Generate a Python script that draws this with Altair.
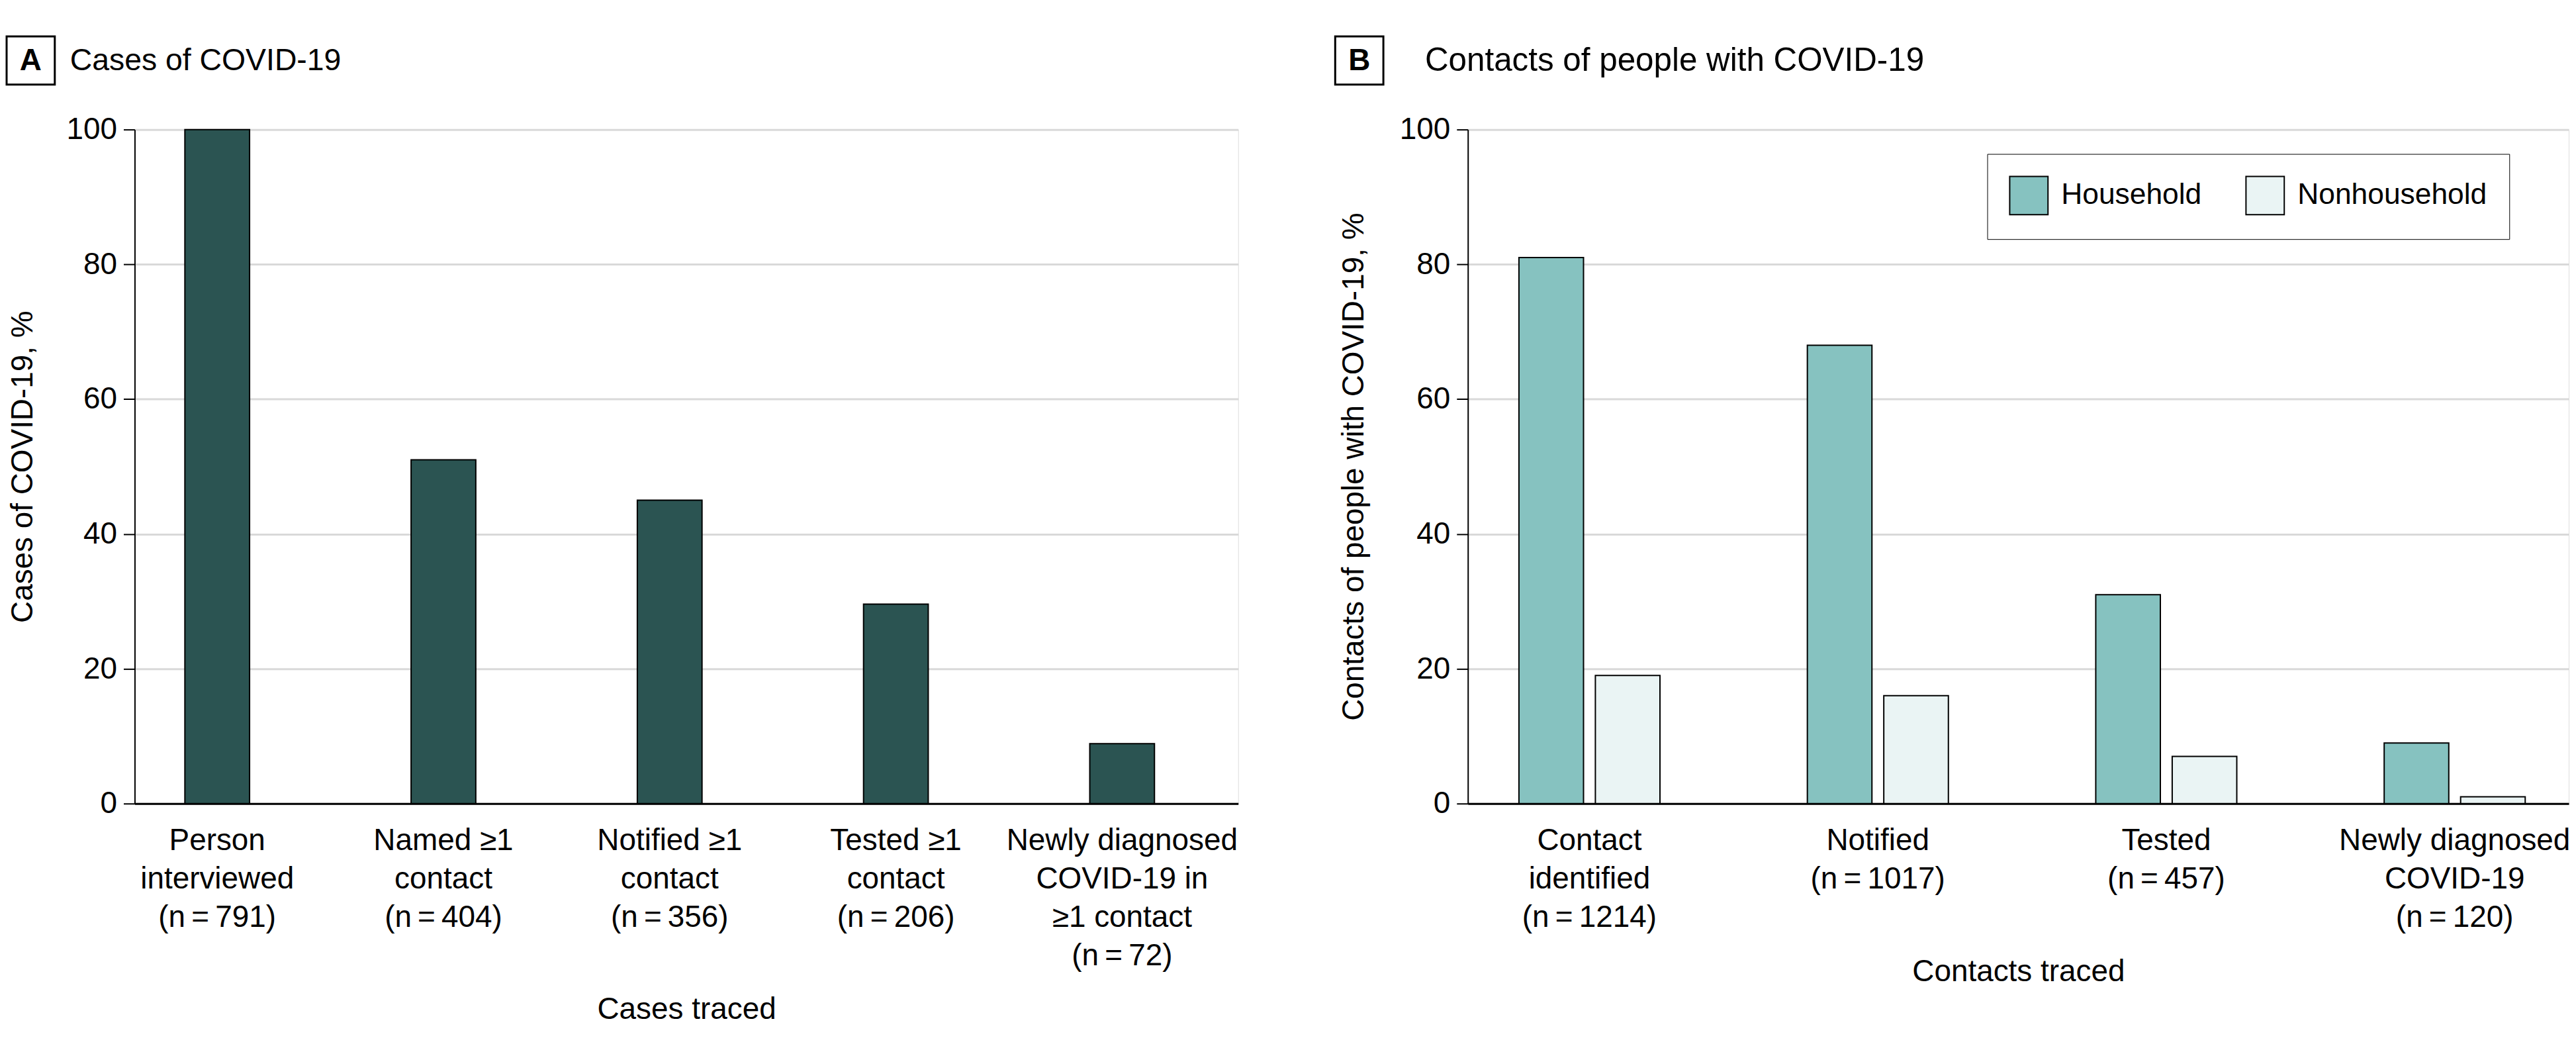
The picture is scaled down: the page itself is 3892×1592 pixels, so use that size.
import altair as alt
import pandas as pd

FONT = "Liberation Sans"

# ---------------- Panel A data ----------------
cases_labels = [
    "Person\ninterviewed\n(n\u2009=\u2009791)",
    "Named \u22651\ncontact\n(n\u2009=\u2009404)",
    "Notified \u22651\ncontact\n(n\u2009=\u2009356)",
    "Tested \u22651\ncontact\n(n\u2009=\u2009206)",
    "Newly diagnosed\nCOVID-19 in\n\u22651 contact\n(n\u2009=\u200972)",
]
cases_pct = [100, 51, 45, 29.6, 8.9]

# ---------------- Panel B data ----------------
contacts_labels = [
    "Contact\nidentified\n(n\u2009=\u20091214)",
    "Notified\n(n\u2009=\u20091017)",
    "Tested\n(n\u2009=\u2009457)",
    "Newly diagnosed\nCOVID-19\n(n\u2009=\u2009120)",
]
contact_types = ["Household", "Nonhousehold"]
household_pct = [81, 68, 31, 9]
nonhousehold_pct = [19, 16, 7, 1]
type_colors = ["#86C2C0", "#EAF4F4"]

panel_tags = ["A", "B"]
panel_titles = ["Cases of COVID-19", "Contacts of people with COVID-19"]

W = 1672
H = 1021

df_a = pd.DataFrame({"category": cases_labels, "pct": cases_pct})
rows = []
for c, h, n in zip(contacts_labels, household_pct, nonhousehold_pct):
    rows.append({"category": c, "type": contact_types[0], "pct": h})
    rows.append({"category": c, "type": contact_types[1], "pct": n})
df_b = pd.DataFrame(rows)


def y_axis(title_x):
    return alt.Axis(
        values=[0, 20, 40, 60, 80, 100],
        grid=True, gridColor="#D9D9D9", gridWidth=3,
        domainColor="black", domainWidth=2,
        tickColor="black", tickWidth=2, tickSize=17,
        labelPadding=10, labelFont=FONT, labelFontSize=46, labelColor="black",
        titleFont=FONT, titleFontSize=46, titleColor="black", titleFontWeight="normal",
        titleAngle=270, titleX=title_x, titleY=H / 2, titleAlign="center",
        titleBaseline="middle",
    )


def x_axis(title_y):
    return alt.Axis(
        labelAngle=0, labelExpr="split(datum.label, '\\n')", labelLineHeight=58,
        labelPadding=34, labelLimit=1000, labelOverlap=False,
        ticks=False, grid=False, domainColor="black", domainWidth=3,
        labelFont=FONT, labelFontSize=46, labelColor="black",
        titleFont=FONT, titleFontSize=46, titleColor="black", titleFontWeight="normal",
        titleY=title_y, titleBaseline="alphabetic",
    )


def header(idx, box_x, title_x, title_size):
    hdf = pd.DataFrame({"tag": [panel_tags[idx]], "title": [panel_titles[idx]]})
    base = alt.Chart(hdf)
    box = base.mark_rect(fill="white", stroke="black", strokeWidth=3).encode(
        x=alt.value(box_x), x2=alt.value(box_x + 73), y=alt.value(-141), y2=alt.value(-68)
    )
    tag = base.mark_text(font=FONT, fontSize=46, fontWeight="bold", align="center",
                         baseline="middle", color="black").encode(
        x=alt.value(box_x + 36.5), y=alt.value(-104), text="tag:N"
    )
    ttl = base.mark_text(font=FONT, fontSize=title_size, align="left", baseline="middle",
                         color="black").encode(
        x=alt.value(title_x), y=alt.value(-104), text="title:N"
    )
    return box + tag + ttl


bars_a = alt.Chart(df_a).mark_bar(color="#2B5452", stroke="black", strokeWidth=2).encode(
    x=alt.X("category:N", sort=cases_labels, title="Cases traced",
            scale=alt.Scale(paddingInner=0.714, paddingOuter=0.296, align=0.375),
            axis=x_axis(326)),
    y=alt.Y("pct:Q", title="Cases of COVID-19, %",
            scale=alt.Scale(domain=[0, 100], nice=False), axis=y_axis(-169)),
)
panel_a = alt.layer(bars_a, header(0, -194, -98, 46.5)).properties(width=W, height=H)

bars_b = alt.Chart(df_b).mark_bar(stroke="black", strokeWidth=2).encode(
    x=alt.X("category:N", sort=contacts_labels, title="Contacts traced",
            scale=alt.Scale(paddingInner=0.511, paddingOuter=0.164, align=0.54),
            axis=x_axis(268)),
    xOffset=alt.XOffset("type:N", sort=contact_types,
                        scale=alt.Scale(paddingInner=0.155, paddingOuter=0)),
    y=alt.Y("pct:Q", title="Contacts of people with COVID-19, %",
            scale=alt.Scale(domain=[0, 100], nice=False), axis=y_axis(-173)),
    color=alt.Color("type:N", sort=contact_types,
                    scale=alt.Scale(domain=contact_types, range=type_colors),
                    legend=alt.Legend(
                        title=None, orient="none", legendX=787, legendY=37,
                        direction="horizontal", strokeColor="black", fillColor="white",
                        padding=33, columnPadding=63, labelOffset=19, labelLimit=1000,
                        symbolType="square", symbolSize=3364,
                        symbolStrokeColor="black", symbolStrokeWidth=2, symbolOpacity=1,
                        labelFont=FONT, labelFontSize=44.5, labelColor="black",
                    )),
)
panel_b = alt.layer(bars_b, header(1, -201, -65, 49.5)).properties(width=1668, height=H)

chart = alt.hconcat(panel_a, panel_b, spacing=144).resolve_scale(
    color="independent"
).resolve_legend(color="independent").properties(
    padding={"left": 0, "top": 43, "right": 0, "bottom": 0}
).configure_view(stroke=None).configure_legend(strokeWidth=3).configure(background="white")

chart.save("out.html", embed_options={"renderer": "svg", "actions": False})
